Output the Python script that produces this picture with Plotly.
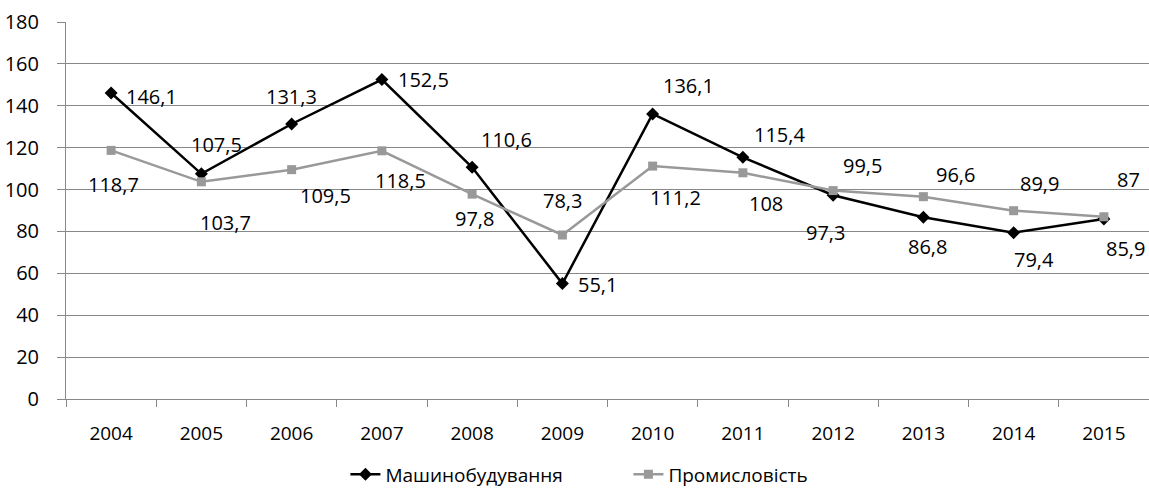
import plotly.graph_objects as go

years = ["2004", "2005", "2006", "2007", "2008", "2009", "2010", "2011", "2012", "2013", "2014", "2015"]
machinery = [146.1, 107.5, 131.3, 152.5, 110.6, 55.1, 136.1, 115.4, 97.3, 86.8, 79.4, 85.9]
industry = [118.7, 103.7, 109.5, 118.5, 97.8, 78.3, 111.2, 108.0, 99.5, 96.6, 89.9, 87.0]
name_machinery = "Машинобудування"
name_industry = "Промисловість"

# label offsets in pixels (dx, dy with dy downward)
off_machinery = [(40, 3), (15, -29), (0, -28), (42, 0), (34, -28), (35, 1),
                 (36, -28), (37, -23), (-8, 37), (4, 29), (20, 27), (22, 29)]
off_industry = [(2, 34), (24, 41), (34, 26), (19, 30), (2, 24), (0, -35),
                (23, 31), (23, 31), (29, -25), (32, -22), (26, -27), (25, -37)]


def fmt(v):
    s = ("%.1f" % v).rstrip("0").rstrip(".")
    return s.replace(".", ",")


FONT = "Open Sans"
xi = list(range(len(years)))

fig = go.Figure()
fig.add_trace(go.Scatter(x=xi, y=machinery, name=name_machinery, mode="lines+markers",
                         line=dict(color="#000000", width=2.5),
                         marker=dict(symbol="diamond", size=10, color="#000000")))
fig.add_trace(go.Scatter(x=xi, y=industry, name=name_industry, mode="lines+markers",
                         line=dict(color="#999999", width=2.5),
                         marker=dict(symbol="square", size=9, color="#999999")))

ann = []
for x, v, (dx, dy) in zip(xi, machinery, off_machinery):
    ann.append(dict(x=x, y=v, text=fmt(v), showarrow=False, xshift=dx, yshift=-dy,
                    font=dict(family=FONT, size=20, color="#000")))
for x, v, (dx, dy) in zip(xi, industry, off_industry):
    ann.append(dict(x=x, y=v, text=fmt(v), showarrow=False, xshift=dx, yshift=-dy,
                    font=dict(family=FONT, size=20, color="#000")))

fig.update_layout(
    width=1149, height=488,
    margin=dict(l=66, r=0, t=22, b=89, autoexpand=False),
    paper_bgcolor="white", plot_bgcolor="white",
    font=dict(family=FONT, size=19, color="#000"),
    annotations=ann,
    showlegend=True,
    legend=dict(orientation="h", xref="paper", yref="paper", x=0.258, y=-0.2,
                xanchor="left", yanchor="middle", font=dict(size=19),
                entrywidth=238, entrywidthmode="pixels"),
)
fig.update_xaxes(range=[-0.5, len(years) - 0.5], tickvals=xi, ticktext=years, automargin=False,
                 showgrid=False, showline=True, linecolor="#888", linewidth=1, zeroline=False,
                 ticks="", ticklabelstandoff=17, tickfont=dict(size=19),
                 minor=dict(tickvals=[i - 0.5 for i in range(len(years) + 1)], ticks="outside",
                            ticklen=7, tickcolor="#888", showgrid=False))
fig.update_yaxes(range=[0, 180], dtick=20, showgrid=True, gridcolor="#888", gridwidth=1,
                 automargin=False,
                 showline=True, linecolor="#888", linewidth=1, zeroline=False,
                 ticks="outside", ticklen=8, tickcolor="#888", ticklabelstandoff=14,
                 tickfont=dict(size=20))

fig.write_html("out.html", post_script="document.body.style.margin='0';",
               config={"displayModeBar": False})
